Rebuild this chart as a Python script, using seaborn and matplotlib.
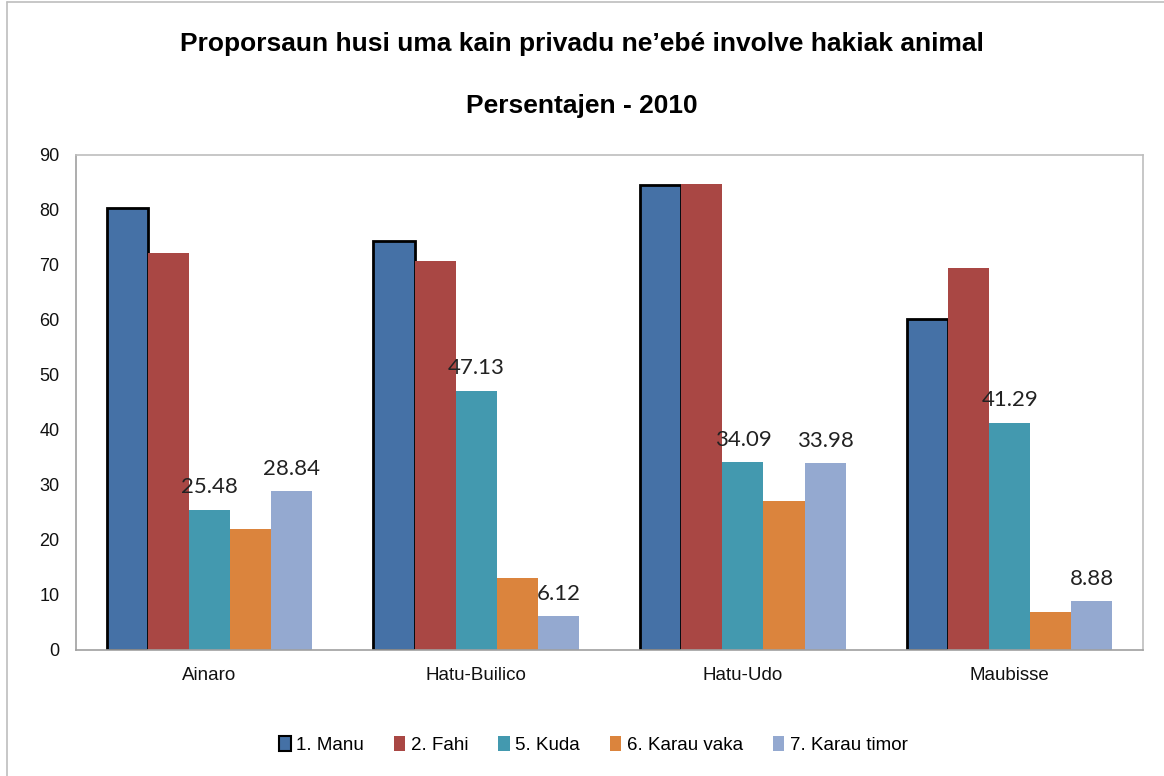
import pandas as pd
import numpy as np
import seaborn as sns
import matplotlib.pyplot as plt
from matplotlib.lines import Line2D
from matplotlib.patches import Patch

# Chart values
districts = ['Ainaro', 'Hatu-Builico', 'Hatu-Udo', 'Maubisse']
animals = ['1. Manu', '2. Fahi', '5. Kuda', '6. Karau vaka', '7. Karau timor']
manu = [80.3, 74.3, 84.5, 60.1]
fahi = [72.1, 70.7, 84.7, 69.4]
kuda = [25.48, 47.13, 34.09, 41.29]
karau_vaka = [22.0, 13.1, 27.0, 6.9]
karau_timor = [28.84, 6.12, 33.98, 8.88]
colors = ['#4571A6', '#A94744', '#4399AF', '#DB843D', '#94A9D0']

series = [manu, fahi, kuda, karau_vaka, karau_timor]
data = pd.DataFrame({
    'district': np.repeat([districts], len(animals), axis=0).ravel(),
    'animal': np.repeat(animals, len(districts)),
    'value': np.concatenate(series),
})

sns.set_style('white')
plt.rcParams['font.family'] = ['Liberation Sans', 'DejaVu Sans']
plt.rcParams['text.color'] = 'black'
plt.rcParams['xtick.color'] = '#111111'
plt.rcParams['ytick.color'] = '#111111'

fig = plt.figure(figsize=(11.64, 7.76), dpi=100)
ax = fig.add_axes([0.0653, 0.1624, 0.9167, 0.6379])

sns.barplot(data=data, x='district', y='value', hue='animal', order=districts,
            hue_order=animals, palette=colors, width=0.77, saturation=1,
            linewidth=0, ax=ax, legend=False)

# Black outline on the first series only
for bar in ax.containers[0]:
    bar.set_edgecolor('black')
    bar.set_linewidth(2)

# Value labels for Kuda and Karau timor
for idx in (2, 4):
    ax.bar_label(ax.containers[idx], labels=[f'{v:.2f}' for v in series[idx]],
                 padding=9, fontsize=16, color='#222222', family='Lato')

ax.set_ylim(0, 90)
ax.set_yticks(range(0, 91, 10))
ax.set_xlim(-0.5, 3.5)
ax.set_xlabel('')
ax.set_ylabel('')
ax.set_xticks(range(4))
ax.set_xticklabels(districts)
ax.set_xticks(np.arange(-0.5, 4, 1), minor=True)
ax.tick_params(axis='x', which='major', length=0, pad=12, labelsize=13.5)
ax.tick_params(axis='x', which='minor', length=6, color='#A0A0A0', direction='out')
ax.tick_params(axis='y', length=6, color='#A0A0A0', direction='out', pad=6, labelsize=13)
for side in ['left', 'bottom', 'top', 'right']:
    ax.spines[side].set_visible(True)
    ax.spines[side].set_color('#BEBEBE')
    ax.spines[side].set_linewidth(1.2)
ax.spines['left'].set_color('#A0A0A0')
ax.spines['bottom'].set_color('#A0A0A0')

fig.text(0.5, 0.943, "Proporsaun husi uma kain privadu ne’ebé involve hakiak animal",
         ha='center', va='center', fontsize=19, fontweight='bold')
fig.text(0.5, 0.864, 'Persentajen - 2010', ha='center', va='center',
         fontsize=19, fontweight='bold')

handles = []
for name, col in zip(animals, colors):
    edge = 'black' if name == '1. Manu' else col
    handles.append(Patch(facecolor=col, edgecolor=edge, linewidth=1.5 if name == '1. Manu' else 0))
fig.legend(handles, animals, loc='center', bbox_to_anchor=(0.51, 0.04), ncol=5,
           frameon=False, fontsize=13.5, handlelength=0.6, handleheight=0.9,
           handletextpad=0.3, columnspacing=1.6)

# Outer chart border (left and top edges visible)
fig.add_artist(Line2D([0.006, 0.006], [0, 0.997], color='#BEBEBE', linewidth=1.2))
fig.add_artist(Line2D([0.006, 1], [0.997, 0.997], color='#BEBEBE', linewidth=1.2))

fig.savefig('out.png', dpi=100)
